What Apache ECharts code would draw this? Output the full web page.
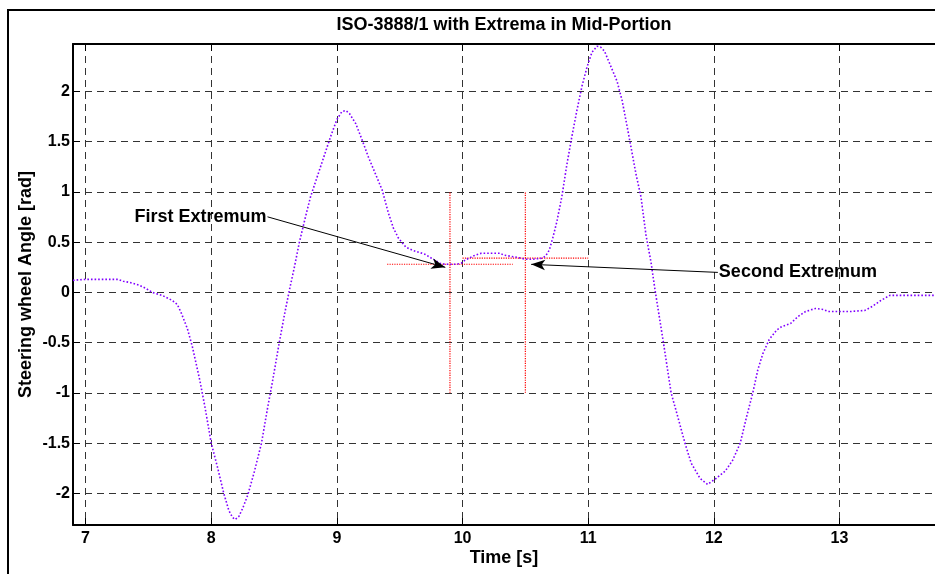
<!DOCTYPE html>
<html><head><meta charset="utf-8">
<script src="https://cdn.jsdelivr.net/npm/echarts@6/dist/echarts.min.js"></script>
<style>html,body{margin:0;padding:0;background:#fff}#c{width:935px;height:574px}</style>
</head><body><div id="c"></div>
<script>
// ---- data ----
const timeS = [6.90,7.00,7.26,7.30,7.35,7.43,7.48,7.53,7.61,7.69,7.73,7.76,7.81,7.85,7.91,7.95,8.00,8.05,8.10,8.14,8.17,8.19,8.22,8.25,8.29,8.34,8.40,8.45,8.49,8.54,8.58,8.62,8.66,8.70,8.75,8.79,8.87,8.95,9.00,9.04,9.07,9.10,9.15,9.20,9.25,9.31,9.36,9.41,9.45,9.49,9.55,9.60,9.65,9.70,9.74,9.78,9.82,9.86,9.90,9.95,9.99,10.02,10.05,10.10,10.15,10.20,10.25,10.30,10.33,10.38,10.43,10.50,10.56,10.63,10.66,10.69,10.72,10.75,10.79,10.83,10.87,10.91,10.95,10.99,11.03,11.07,11.10,11.13,11.17,11.23,11.27,11.31,11.34,11.38,11.42,11.46,11.50,11.53,11.60,11.66,11.72,11.77,11.82,11.89,11.95,12.02,12.09,12.15,12.21,12.26,12.31,12.35,12.39,12.44,12.50,12.54,12.61,12.67,12.73,12.81,12.87,12.91,13.09,13.20,13.26,13.33,13.40,13.76];
const angleRad = [0.12,0.13,0.13,0.11,0.10,0.07,0.04,0.00,-0.03,-0.08,-0.12,-0.20,-0.36,-0.54,-0.88,-1.14,-1.50,-1.74,-2.00,-2.17,-2.24,-2.26,-2.23,-2.15,-2.02,-1.80,-1.50,-1.14,-0.87,-0.51,-0.24,0.01,0.24,0.49,0.75,0.95,1.25,1.55,1.72,1.80,1.81,1.78,1.68,1.52,1.35,1.17,1.02,0.79,0.64,0.54,0.45,0.42,0.40,0.38,0.35,0.32,0.29,0.28,0.28,0.28,0.29,0.32,0.34,0.37,0.39,0.39,0.39,0.39,0.37,0.36,0.35,0.33,0.33,0.34,0.36,0.42,0.55,0.70,0.95,1.27,1.55,1.81,2.05,2.24,2.39,2.45,2.44,2.40,2.28,2.10,1.91,1.65,1.45,1.18,0.95,0.57,0.30,0.04,-0.51,-1.00,-1.27,-1.50,-1.70,-1.85,-1.91,-1.85,-1.78,-1.67,-1.50,-1.24,-1.00,-0.77,-0.61,-0.47,-0.375,-0.34,-0.31,-0.24,-0.19,-0.16,-0.17,-0.19,-0.19,-0.18,-0.14,-0.08,-0.03,-0.03];
const xTicks = [7,8,9,10,11,12,13];
const yTicks = [-2,-1.5,-1,-0.5,0,0.5,1,1.5,2];
const xRange = [6.9, 13.76];
const yRange = [-2.315, 2.472];
const markerTimes = [9.9, 10.5];
const markerVLow = [-1, -1];
const markerVHigh = [1, 1];
const markerLevels = [0.28, 0.34];
const markerHStart = [9.4, 10.0];
const markerHEnd = [10.4, 11.0];
const annTexts = ['First Extremum', 'Second Extremum'];
const annFrom = [[8.448, 0.752], [12.032, 0.199]];
const annTo = [[9.863, 0.249], [10.546, 0.279]];
const annSide = ['left', 'right'];

const FONT = 'Liberation Sans, Arial, sans-serif';
const chart = echarts.init(document.getElementById('c'), null, {renderer: 'canvas'});

const redSeries = [];
markerTimes.forEach((t, i) => {
  redSeries.push({type: 'line', data: [[t, markerVLow[i]], [t, markerVHigh[i]]]});
});
markerLevels.forEach((v, i) => {
  redSeries.push({type: 'line', data: [[markerHStart[i], v], [markerHEnd[i], v]]});
});
redSeries.forEach(s => {
  Object.assign(s, {showSymbol: false, symbol: 'none', silent: true, z: 3,
    lineStyle: {color: '#ff0000', width: 1.2, type: [1.2, 1.2]}});
});

const gridLine = {show: true, lineStyle: {color: '#333', width: 1, type: [7, 5]}};
const option = {
  animation: false,
  backgroundColor: '#fff',
  grid: {left: 73, right: -2, top: 44, bottom: 49, containLabel: false},
  xAxis: [{
    type: 'value', min: xRange[0], max: xRange[1], position: 'bottom',
    axisLine: {show: true, onZero: false, lineStyle: {color: '#000', width: 2}},
    axisTick: {show: true, inside: true, length: 7, customValues: xTicks, lineStyle: {color: '#000', width: 1}},
    axisLabel: {show: true, customValues: xTicks, margin: 6, color: '#000', fontFamily: FONT, fontWeight: 'bold', fontSize: 16},
    splitLine: gridLine,
    name: 'Time [s]', nameLocation: 'middle', nameGap: 24, nameMoveOverlap: false,
    nameTextStyle: {color: '#000', fontFamily: FONT, fontWeight: 'bold', fontSize: 18}
  }, {
    type: 'value', min: xRange[0], max: xRange[1], position: 'top',
    axisLine: {show: true, onZero: false, lineStyle: {color: '#000', width: 2}},
    axisTick: {show: true, inside: true, length: 7, customValues: xTicks, lineStyle: {color: '#000', width: 1}},
    axisLabel: {show: false}, splitLine: {show: false},
    name: 'ISO-3888/1 with Extrema in Mid-Portion', nameLocation: 'middle', nameGap: 10, nameMoveOverlap: false,
    nameTextStyle: {color: '#000', fontFamily: FONT, fontWeight: 'bold', fontSize: 18}
  }],
  yAxis: [{
    type: 'value', min: yRange[0], max: yRange[1], position: 'left',
    axisLine: {show: true, onZero: false, lineStyle: {color: '#000', width: 2}},
    axisTick: {show: true, inside: true, length: 7, customValues: yTicks, lineStyle: {color: '#000', width: 1}},
    axisLabel: {show: true, customValues: yTicks, margin: 3, color: '#000', fontFamily: FONT, fontWeight: 'bold', fontSize: 16},
    splitLine: gridLine,
    name: 'Steering wheel Angle [rad]', nameLocation: 'middle', nameGap: 38, nameRotate: 90, nameMoveOverlap: false,
    nameTextStyle: {color: '#000', fontFamily: FONT, fontWeight: 'bold', fontSize: 18}
  }],
  graphic: [{
    type: 'rect', silent: true, z: 100,
    shape: {x: 8, y: 10, width: 1200, height: 1200},
    style: {fill: 'none', stroke: '#000', lineWidth: 2}
  }],
  series: [{
    type: 'line', name: 'angle', xAxisIndex: 0, yAxisIndex: 0,
    data: timeS.map((t, i) => [t, angleRad[i]]),
    showSymbol: false, symbol: 'none', smooth: false, z: 4,
    lineStyle: {color: '#8000ff', width: 1.6, type: [1.6, 2]},
    markLine: {
      silent: true, animation: false, symbol: ['none', 'arrow'], symbolSize: [8, 14],
      label: {show: false},
      lineStyle: {color: '#000', width: 1, type: 'solid'},
      data: annFrom.map((f, i) => [{coord: f}, {coord: annTo[i]}])
    }
  }].concat(redSeries).concat([{
    type: 'scatter', symbolSize: 0, silent: true, z: 6,
    itemStyle: {opacity: 1},
    data: annFrom.map((f, i) => ({
      value: f,
      label: {show: true, formatter: annTexts[i], position: annSide[i], distance: 1,
        color: '#000', opacity: 1, fontFamily: FONT, fontWeight: 'bold', fontSize: 18}
    }))
  }])
};
chart.setOption(option);
</script></body></html>
